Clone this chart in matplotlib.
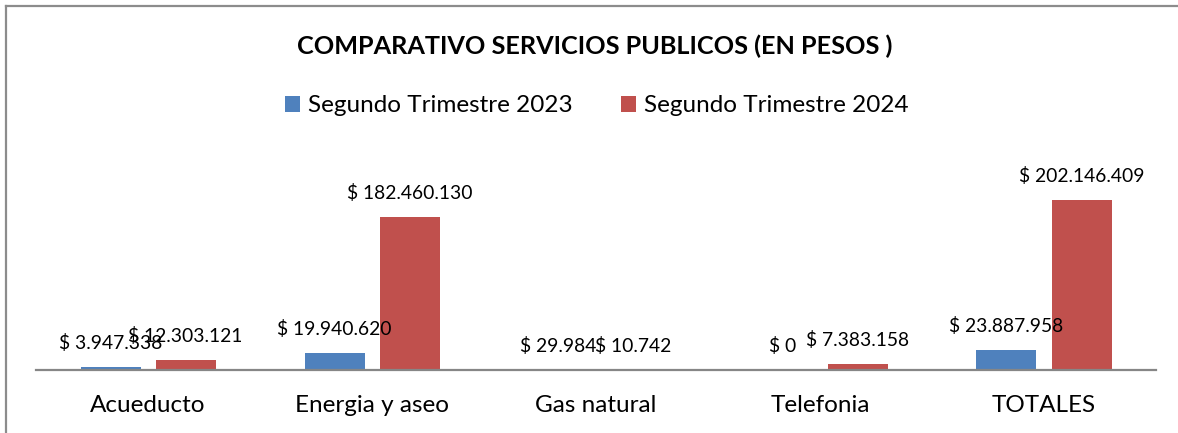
import matplotlib
matplotlib.use("Agg")
import matplotlib.pyplot as plt
from matplotlib.lines import Line2D
import numpy as np

categories = ["Acueducto", "Energia y aseo", "Gas natural", "Telefonia", "TOTALES"]
series_names = ["Segundo Trimestre 2023", "Segundo Trimestre 2024"]
values_2023 = [3947338, 19940620, 29984, 0, 23887958]
values_2024 = [12303121, 182460130, 10742, 7383158, 202146409]
title = "COMPARATIVO SERVICIOS PUBLICOS (EN PESOS )"

BLUE = "#4F81BD"
RED = "#C0504D"
FONT = "Lato"

W, H = 1178, 433
fig = plt.figure(figsize=(W / 100, H / 100), dpi=100)
plt.rcParams["font.family"] = [FONT, "DejaVu Sans"]

# axes placement in pixels
left_px, right_px, base_px, top_px = 36, 1156, 370, 160
ax = fig.add_axes([left_px / W, (H - base_px) / H, (right_px - left_px) / W, (base_px - top_px) / H])

x = np.arange(len(categories))
bw = 60 / 224
off = 37.5 / 224
b1 = ax.bar(x - off, values_2023, bw, color=BLUE, label=series_names[0])
b2 = ax.bar(x + off, values_2024, bw, color=RED, label=series_names[1])

ax.set_xlim(-0.5, len(categories) - 0.5)
ax.set_ylim(0, 250e6)


def fmt(v):
    return "$ " + f"{v:,}".replace(",", ".")


for bars, vals in ((b1, values_2023), (b2, values_2024)):
    for rect, v in zip(bars, vals):
        ax.annotate(fmt(v), (rect.get_x() + rect.get_width() / 2, v),
                    xytext=(0, 24), textcoords="offset pixels",
                    ha="center", va="center", fontsize=13.9, color="#000000")

for s in ("top", "right", "left"):
    ax.spines[s].set_visible(False)
ax.spines["bottom"].set_color("#868686")
ax.spines["bottom"].set_linewidth(1.6)
ax.set_yticks([])
ax.set_xticks(x)
ax.set_xticklabels(categories, fontsize=17.5)
ax.tick_params(axis="x", length=0, pad=18)

fig.text(595 / W, 1 - 46 / H, title, ha="center", va="center",
         fontsize=18.2, fontweight="bold")

fig.legend(handles=[b1, b2], labels=series_names, loc="center",
           bbox_to_anchor=(597 / W, 1 - 106 / H), ncol=2, frameon=False,
           fontsize=17.5, handlelength=0.6, handleheight=0.6,
           handletextpad=0.35, columnspacing=2.0)

# chart-area border (top and left visible)
fig.add_artist(Line2D([6 / W, 6 / W], [0, 1 - 6 / H], color="#8c8c8c", lw=1.6,
                      transform=fig.transFigure))
fig.add_artist(Line2D([6 / W, 1], [1 - 6 / H, 1 - 6 / H], color="#8c8c8c", lw=1.6,
                      transform=fig.transFigure))

fig.savefig("out.png", dpi=100)
